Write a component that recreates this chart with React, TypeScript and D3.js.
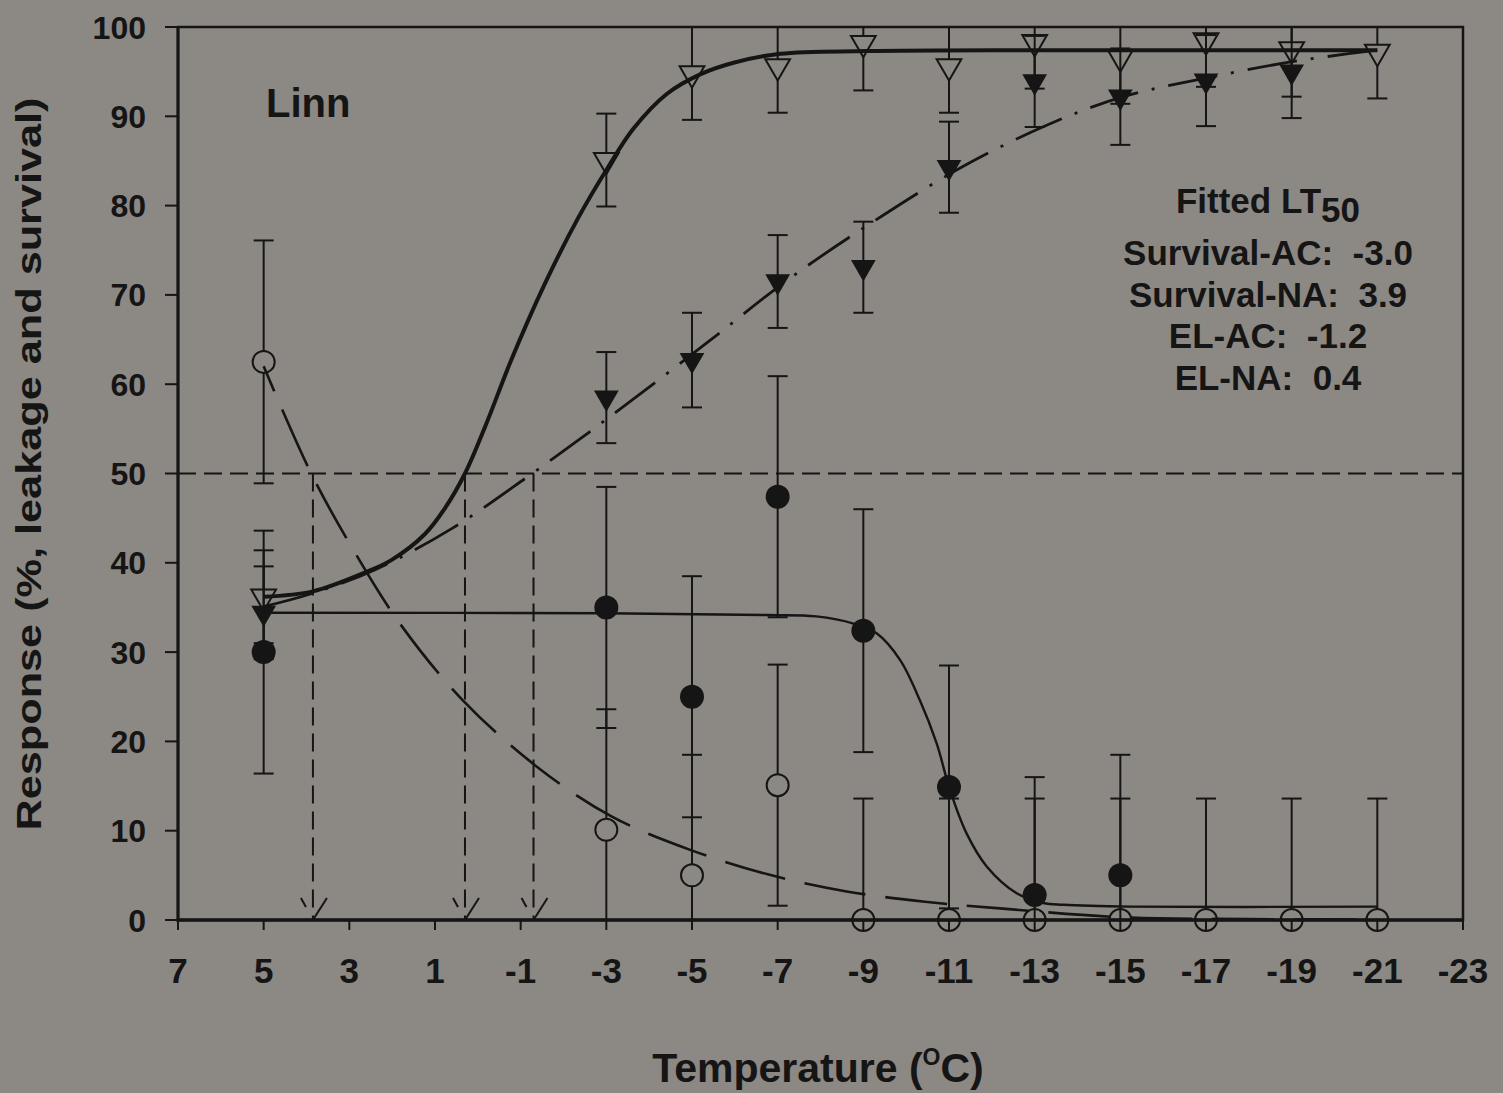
import * as d3 from "d3";

const W = 1503;
const H = 1093;
const BG = "#8c8883";
const INK = "#151515";

// axes
const xTicks = [7, 5, 3, 1, -1, -3, -5, -7, -9, -11, -13, -15, -17, -19, -21, -23];
const yTicks = [0, 10, 20, 30, 40, 50, 60, 70, 80, 90, 100];

// measured points
const temps = [5, -3, -5, -7, -9, -11, -13, -15, -17, -19, -21];
const elNa = [36.2, 85.1, 94.8, 95.6, 98.2, 95.6, 98.3, 96.6, 98.5, 97.5, 97.2];
const elNaErr = [5.2, 5.2, 5.2, 5.2, 5.3, 5.2, 5.2, 5.2, 5.2, 5.3, 5.2];

const elAcTemps = [5, -3, -5, -7, -9, -11, -13, -15, -17, -19];
const elAc = [34.4, 58.5, 62.7, 71.5, 73.1, 84.3, 93.9, 92.2, 94.0, 95.0];
const elAcErr = [5.2, 5.1, 5.3, 5.2, 5.1, 5.1, 5.1, 5.4, 5.1, 5.2];

const survNa = [62.5, 10.1, 5.0, 15.1, 0, 0, 0, 0, 0, 0, 0];
const survNaErr = [13.6, 13.5, 13.5, 13.5, 13.6, 13.6, 13.6, 13.6, 13.6, 13.6, 13.6];

const survAcTemps = [5, -3, -5, -7, -9, -11, -13, -15];
const survAc = [30.0, 35.0, 25.0, 47.4, 32.4, 14.9, 2.8, 5.0];
const survAcErr = [13.6, 13.5, 13.5, 13.5, 13.6, 13.6, 13.2, 13.5];

// fitted curves
const elNaFitT = [5, 3.85, 2.64, 2.02, 1.24, 0.77, 0.3, -0.2, -0.78, -1.56, -2.34, -3.04, -3.63, -4.41, -5.19, -5.97, -7.06, -9.08, -13, -17, -21];
const elNaFitV = [36.2, 36.8, 38.9, 40.3, 43.2, 46.1, 50.0, 55.6, 62.7, 71.2, 78.6, 84.3, 88.6, 92.5, 94.7, 96.0, 97.0, 97.3, 97.4, 97.4, 97.4];

const elAcFitT = [5, 3.85, 2.41, 0.62, -1.21, -3.04, -5.42, -7.21, -9.23, -11.26, -13.28, -15.07, -17.02, -19.12, -21];
const elAcFitV = [35.1, 36.6, 39.2, 43.8, 49.8, 56.2, 64.9, 71.6, 78.2, 84.2, 89.0, 92.2, 94.3, 96.2, 97.4];

const survNaFitT = [5, 3.89, 2.95, 1.82, 0.35, -1.37, -3.12, -4.99, -6.86, -8.61, -10.44, -12.19, -15.06, -18, -21];
const survNaFitV = [62.0, 50.0, 41.8, 33.2, 24.6, 17.2, 11.6, 7.8, 5.0, 3.2, 2.05, 1.3, 0.3, 0.1, 0.05];

const survAcFitT = [5, -3, -6.74, -7.9, -8.77, -9.31, -9.86, -10.32, -10.71, -11.02, -11.41, -11.88, -12.58, -13.2, -13.67, -15.23, -21];
const survAcFitV = [34.4, 34.35, 34.15, 34.0, 33.2, 32.1, 29.1, 24.6, 19.8, 14.6, 9.7, 6.0, 3.0, 1.9, 1.7, 1.5, 1.5];

// LT50 drop lines
const dropTemps = [3.85, 0.3, -1.3];

const legendTitle = "Fitted LT";
const legendLines = ["Survival-AC:  -3.0", "Survival-NA:  3.9", "EL-AC:  -1.2", "EL-NA:  0.4"];

const x = d3.scaleLinear().domain([7, -23]).range([178, 1463]);
const y = d3.scaleLinear().domain([0, 100]).range([920, 27]);

const line = d3
  .line<[number, number]>()
  .x((d) => x(d[0]))
  .y((d) => y(d[1]))
  .curve(d3.curveCatmullRom.alpha(0.5));

const zip = (ts: number[], vs: number[]) => ts.map((t, i) => [t, vs[i]] as [number, number]);

const triPath = d3.symbol(d3.symbolTriangle, 265)() as string;

function ErrorBar({ t, v, e, gapTop, gapBot }: { t: number; v: number; e: number; gapTop: number; gapBot: number }) {
  const cx = x(t);
  const yc = y(v);
  const yTop = y(Math.min(v + e, 100));
  const yBot = y(Math.max(v - e, 0));
  return (
    <g>
      {yTop < yc - gapTop && <line x1={cx} x2={cx} y1={yTop} y2={yc - gapTop} />}
      {yBot > yc + gapBot && <line x1={cx} x2={cx} y1={yc + gapBot} y2={yBot} />}
      {v + e < 100 && <line x1={cx - 10} x2={cx + 10} y1={yTop} y2={yTop} />}
      {v - e > 0 && <line x1={cx - 10} x2={cx + 10} y1={yBot} y2={yBot} />}
    </g>
  );
}

export default function App() {
  return (
    <div style={{ position: "absolute", left: 0, top: 0, width: W, height: H, background: BG }}>
      <svg width={W} height={H} style={{ display: "block" }} fontFamily="'Liberation Sans', Arial, sans-serif" fontWeight="bold">
        {/* 50% line and LT50 drops */}
        <g stroke={INK} strokeWidth={2} strokeDasharray="18,8" fill="none">
          <line x1={x(7)} x2={x(-23)} y1={y(50)} y2={y(50)} />
          {dropTemps.map((t) => (
            <line key={t} x1={x(t)} x2={x(t)} y1={y(50)} y2={y(0)} />
          ))}
        </g>
        <g stroke={INK} strokeWidth={2} fill="none">
          {dropTemps.map((t) => (
            <g key={t}>
              <line x1={x(t) - 12} y1={y(0) - 22} x2={x(t) - 7} y2={y(0) - 13} />
              <line x1={x(t) + 14} y1={y(0) - 22} x2={x(t)} y2={y(0)} />
            </g>
          ))}
        </g>

        {/* error bars */}
        <g stroke={INK} strokeWidth={2}>
          {temps.map((t, i) => (
            <ErrorBar key={"en" + i} t={t} v={elNa[i]} e={elNaErr[i]} gapTop={7} gapBot={13} />
          ))}
          {elAcTemps.map((t, i) => (
            <ErrorBar key={"ea" + i} t={t} v={elAc[i]} e={elAcErr[i]} gapTop={0} gapBot={0} />
          ))}
          {temps.map((t, i) => (
            <ErrorBar key={"sn" + i} t={t} v={survNa[i]} e={survNaErr[i]} gapTop={11} gapBot={11} />
          ))}
          {survAcTemps.map((t, i) => (
            <ErrorBar key={"sa" + i} t={t} v={survAc[i]} e={survAcErr[i]} gapTop={0} gapBot={0} />
          ))}
        </g>

        {/* fitted curves */}
        <g fill="none" stroke={INK}>
          <path d={line(zip(elNaFitT, elNaFitV)) as string} strokeWidth={4} />
          <path d={line(zip(elAcFitT, elAcFitV)) as string} strokeWidth={2.8} strokeDasharray="50,14,3,14" />
          <path d={line(zip(survNaFitT, survNaFitV)) as string} strokeWidth={2.6} strokeDasharray="62,20" strokeDashoffset={35} />
          <path d={line(zip(survAcFitT, survAcFitV)) as string} strokeWidth={2.4} />
        </g>

        {/* markers */}
        <g>
          {survAcTemps.map((t, i) => (
            <circle key={"sa" + i} cx={x(t)} cy={y(survAc[i])} r={12} fill={INK} />
          ))}
          {temps.map((t, i) => (
            <circle key={"sn" + i} cx={x(t)} cy={y(survNa[i])} r={11} fill="none" stroke={INK} strokeWidth={2} />
          ))}
          {elAcTemps.map((t, i) => (
            <path key={"ea" + i} d={triPath} transform={`translate(${x(t)},${y(elAc[i])}) rotate(180)`} fill={INK} />
          ))}
          {temps.map((t, i) => (
            <path key={"en" + i} d={triPath} transform={`translate(${x(t)},${y(elNa[i])}) rotate(180)`} fill="none" stroke={INK} strokeWidth={2} />
          ))}
        </g>

        {/* frame and axes */}
        <rect x={x(7)} y={y(100)} width={x(-23) - x(7)} height={y(0) - y(100)} fill="none" stroke={INK} strokeWidth={2.5} />
        <line x1={x(7)} x2={x(-23)} y1={y(0)} y2={y(0)} stroke={INK} strokeWidth={3.5} />
        <line x1={x(7)} x2={x(7)} y1={y(0) + 2} y2={y(100)} stroke={INK} strokeWidth={3} />
        <g stroke={INK} strokeWidth={2}>
          {yTicks.map((v) => (
            <line key={v} x1={x(7) - 13} x2={x(7)} y1={y(v)} y2={y(v)} />
          ))}
          {xTicks.map((t) => (
            <line key={t} x1={x(t)} x2={x(t)} y1={y(0)} y2={y(0) + 10} />
          ))}
        </g>
        <g fill={INK} fontSize={32} textAnchor="end">
          {yTicks.map((v) => (
            <text key={v} x={146} y={y(v)} dy="0.36em">
              {v}
            </text>
          ))}
        </g>
        <g fill={INK} fontSize={35} textAnchor="middle">
          {xTicks.map((t) => (
            <text key={t} x={x(t)} y={983}>
              {t}
            </text>
          ))}
        </g>

        {/* titles */}
        <text
          transform="translate(41,464) rotate(-90)"
          textAnchor="middle"
          fontSize={35}
          fill={INK}
          textLength={733}
          lengthAdjust="spacingAndGlyphs"
        >
          Response (%, leakage and survival)
        </text>
        <text x={818} y={1082} textAnchor="middle" fontSize={41} fill={INK}>
          Temperature (<tspan fontSize={23} dy={-17}>O</tspan>
          <tspan dy={17}>C)</tspan>
        </text>

        <text x={266} y={117} fontSize={40} fill={INK}>
          Linn
        </text>

        <g fill={INK} fontSize={35} textAnchor="middle">
          <text x={1268} y={213}>
            {legendTitle}
            <tspan dy={9}>50</tspan>
          </text>
          {legendLines.map((s, i) => (
            <text key={s} x={1268} y={265 + i * 41.7} xmlSpace="preserve" style={{ whiteSpace: "pre" }}>
              {s}
            </text>
          ))}
        </g>
      </svg>
    </div>
  );
}
